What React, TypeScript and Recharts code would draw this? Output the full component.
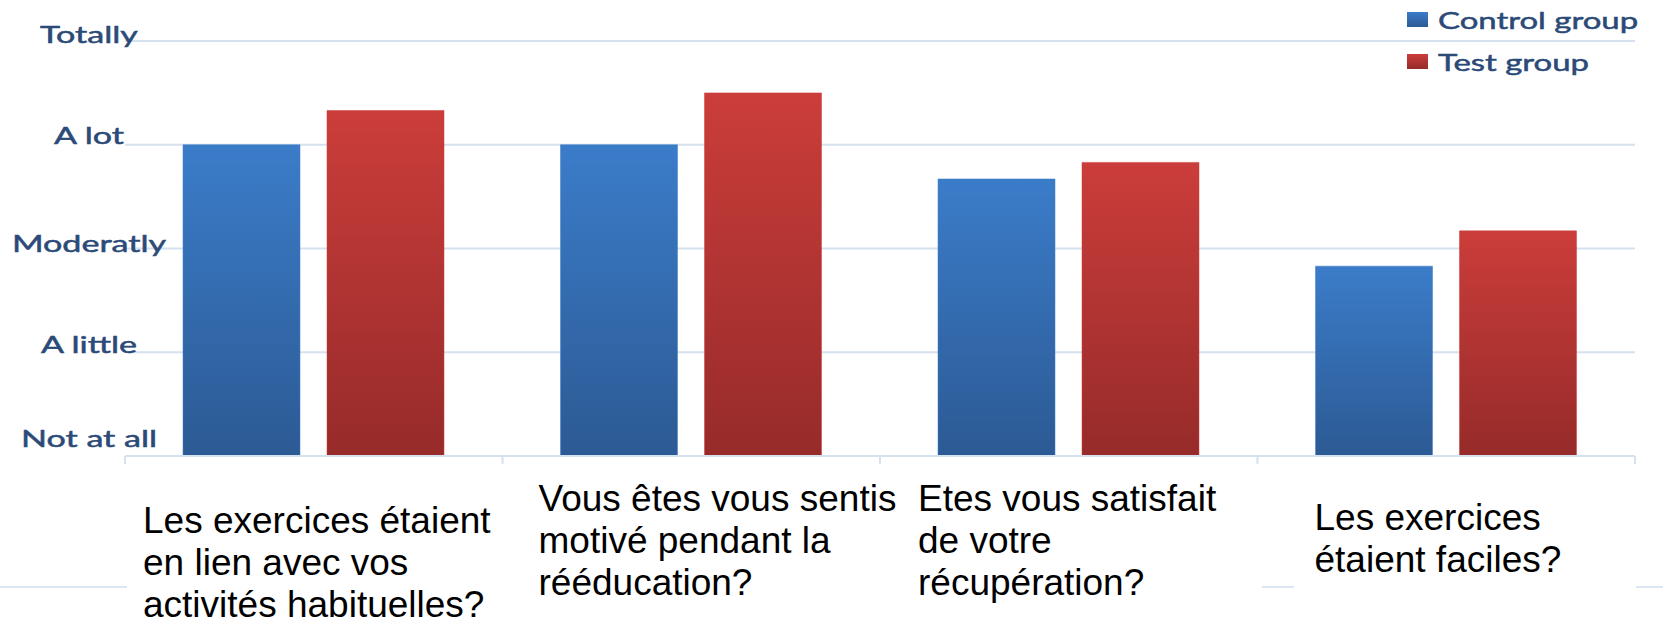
import { BarChart, Bar, XAxis, YAxis, CartesianGrid, Legend } from 'recharts';

// questions under each group (line breaks as in the original text boxes)
const QUESTIONS = [
  'Les exercices étaient\nen lien avec vos\nactivités habituelles?',
  'Vous êtes vous sentis\nmotivé pendant la\nrééducation?',
  'Etes vous satisfait\nde votre\nrécupération?',
  'Les exercices\nétaient faciles?',
];
const CONTROL = [3.0, 3.0, 2.67, 1.83];
const TEST = [3.33, 3.5, 2.83, 2.17];
const LEVELS = ['Not at all', 'A little', 'Moderatly', 'A lot', 'Totally'];

const SERIES = [
  { key: 'control', name: 'Control group', top: '#3b7cc9', bottom: '#2c5a94' },
  { key: 'test', name: 'Test group', top: '#cb3d3a', bottom: '#962b2a' },
];

// the question text boxes are not placed the same way under every group
const LABEL_BOX = [
  { dx: 18, dy: 64 },
  { dx: 36, dy: 42 },
  { dx: 38, dy: 42 },
  { dx: 57, dy: 61 },
];
const LEVEL_DY = [-18, -9, -6, -10, -7];

const AXIS_BLUE = '#d5e1ef';
const TEXT_BLUE = '#2b4a78';

const data = QUESTIONS.map((q, i) => ({ question: q, control: CONTROL[i], test: TEST[i] }));

function LevelTick(props: any) {
  const { x, y, payload } = props;
  const v = payload.value as number;
  return (
    <g transform={`translate(${x - 36},${y + LEVEL_DY[v]}) scale(1.42,1)`}>
      <text textAnchor="middle" dominantBaseline="central" fill={TEXT_BLUE}
        stroke={TEXT_BLUE} strokeWidth={0.5}
        style={{ fontFamily: 'Lato', fontSize: 24 }}>
        {LEVELS[v]}
      </text>
    </g>
  );
}

function QuestionTick(props: any) {
  const { x, y, payload } = props;
  const i = payload.index as number;
  const half = payload.offset ?? 0;
  const left = x - half;
  const box = LABEL_BOX[i] ?? { dx: 30, dy: 50 };
  const lines = String(payload.value).split('\n');
  return (
    <g>
      <line x1={left} x2={left} y1={y} y2={y + 8} stroke={AXIS_BLUE} strokeWidth={2} />
      {i === QUESTIONS.length - 1 && (
        <line x1={x + half} x2={x + half} y1={y} y2={y + 8} stroke={AXIS_BLUE} strokeWidth={2} />
      )}
      {lines.map((t, k) => (
        <text key={k} x={left + box.dx} y={y + box.dy + k * 42} dominantBaseline="central"
          fill="#000" style={{ fontFamily: 'Liberation Sans', fontSize: 37 }}>
          {t}
        </text>
      ))}
    </g>
  );
}

const renderLegend = () => (
  <div style={{ fontFamily: 'Lato', fontSize: 24, color: TEXT_BLUE, WebkitTextStroke: `0.5px ${TEXT_BLUE}` }}>
    {SERIES.map((s) => (
      <div key={s.key} style={{ display: 'flex', alignItems: 'center', height: 42 }}>
        <span style={{ display: 'inline-block', width: 21, height: 15, marginRight: 10,
          background: `linear-gradient(${s.top}, ${s.bottom})` }} />
        <span style={{ display: 'inline-block', whiteSpace: 'nowrap',
          transform: 'scaleX(1.37)', transformOrigin: 'left center' }}>{s.name}</span>
      </div>
    ))}
  </div>
);

// bits of a faint line under the labels that show between the text boxes
const strayLine = [
  { left: 0, width: 127 },
  { left: 1262, width: 32 },
  { left: 1636, width: 27 },
];

export default function App() {
  return (
    <div style={{ position: 'absolute', left: 0, top: 0, width: 1663, height: 618, background: '#fff' }}>
      {strayLine.map((s, i) => (
        <div key={i} style={{ position: 'absolute', top: 586, left: s.left, width: s.width, height: 2, background: '#dce6f2' }} />
      ))}
      <BarChart width={1663} height={618} data={data}
        margin={{ top: 41, right: 28, bottom: 0, left: 0 }}
        barSize={117} barGap={27}>
        <defs>
          {SERIES.map((s) => (
            <linearGradient key={s.key} id={`grad-${s.key}`} x1="0" y1="0" x2="0" y2="1">
              <stop offset="0%" stopColor={s.top} />
              <stop offset="100%" stopColor={s.bottom} />
            </linearGradient>
          ))}
        </defs>
        <CartesianGrid vertical={false} stroke={AXIS_BLUE} strokeWidth={2} />
        <XAxis dataKey="question" height={162} interval={0} tickSize={0} tickMargin={0}
          axisLine={{ stroke: AXIS_BLUE, strokeWidth: 2 }} tickLine={false} tick={<QuestionTick />} />
        <YAxis width={125} domain={[0, 4]} ticks={[0, 1, 2, 3, 4]} interval={0}
          axisLine={false} tickLine={false} tickSize={0} tickMargin={0} tick={<LevelTick />} />
        <Legend layout="vertical" align="center" verticalAlign="middle" content={renderLegend}
          wrapperStyle={{ left: 1407, top: -2, width: 256 }} />
        {SERIES.map((s) => (
          <Bar key={s.key} dataKey={s.key} name={s.name} fill={`url(#grad-${s.key})`}
            stroke={s.top} strokeOpacity={0.5} isAnimationActive={false} />
        ))}
      </BarChart>
    </div>
  );
}
